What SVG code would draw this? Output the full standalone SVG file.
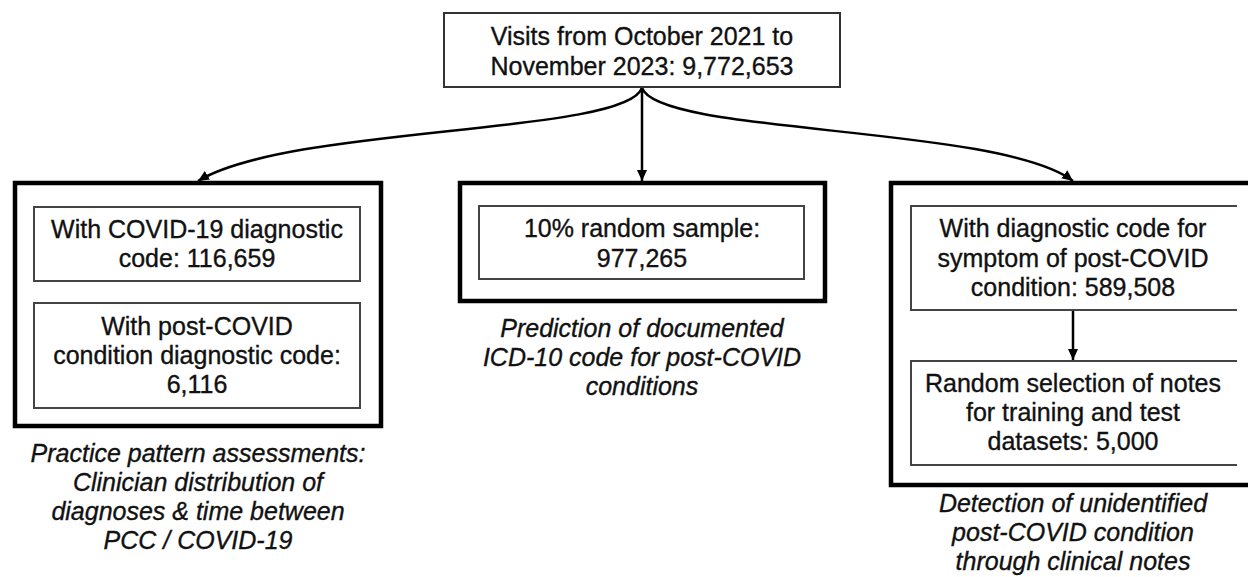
<svg xmlns="http://www.w3.org/2000/svg" width="1248" height="577" viewBox="0 0 1248 577">
<style>
text{font-family:"Liberation Sans",Arial,sans-serif;font-size:25px;fill:#111;stroke:#111;stroke-width:0.35;text-anchor:middle}
.cap{font-style:italic}
.outer{fill:none;stroke:#000;stroke-width:4.5}
.inner{fill:none;stroke:#444;stroke-width:2}
.top{fill:#fff;stroke:#333;stroke-width:2}
.conn{fill:none;stroke:#000;stroke-width:2.5}
</style>
<defs>
<marker id="ah" markerUnits="userSpaceOnUse" markerWidth="12" markerHeight="12" refX="11" refY="6" orient="auto">
<path d="M0,1 L11,6 L0,11 Z" fill="#000"/>
</marker>
</defs>
<rect width="1248" height="577" fill="#fff"/>
<g id="connectors">
<path class="conn" d="M642,88 C625,135 290,125 198,181" marker-end="url(#ah)"/>
<path class="conn" d="M642,88 C659,135 1000,125 1073,181" marker-end="url(#ah)"/>
<path class="conn" d="M642,88 L642,181" marker-end="url(#ah)"/>
<path class="conn" d="M1073,310 L1073,360" stroke-width="2" marker-end="url(#ah)"/>
</g>
<g id="top">
<rect class="top" x="444" y="13" width="396" height="74"/>
<text x="642" y="45">Visits from October 2021 to</text>
<text x="642" y="75">November 2023: 9,772,653</text>
</g>
<g id="left">
<rect class="outer" x="15" y="183" width="366" height="243"/>
<g id="left-covid">
<rect class="inner" x="34" y="207" width="326" height="74"/>
<text x="197" y="238">With COVID-19 diagnostic</text>
<text x="197" y="267">code: 116,659</text>
</g>
<g id="left-pcc">
<rect class="inner" x="34" y="303" width="326" height="105"/>
<text x="197" y="335">With post-COVID</text>
<text x="197" y="364">condition diagnostic code:</text>
<text x="197" y="393">6,116</text>
</g>
<g id="left-caption">
<text class="cap" x="198" y="462">Practice pattern assessments:</text>
<text class="cap" x="198" y="491">Clinician distribution of</text>
<text class="cap" x="198" y="520">diagnoses &amp; time between</text>
<text class="cap" x="198" y="549">PCC / COVID-19</text>
</g>
</g>
<g id="middle">
<rect class="outer" x="460" y="183" width="365" height="118"/>
<g id="middle-sample">
<rect class="inner" x="479" y="206" width="325" height="73"/>
<text x="642" y="237">10% random sample:</text>
<text x="642" y="267">977,265</text>
</g>
<g id="middle-caption">
<text class="cap" x="642" y="337">Prediction of documented</text>
<text class="cap" x="642" y="366">ICD-10 code for post-COVID</text>
<text class="cap" x="642" y="395">conditions</text>
</g>
</g>
<g id="right">
<rect class="outer" x="891" y="183" width="370" height="302"/>
<g id="right-symptom">
<path class="inner" d="M1237,206 H911 V310 H1237"/>
<text x="1073" y="237">With diagnostic code for</text>
<text x="1073" y="267">symptom of post-COVID</text>
<text x="1073" y="296">condition: 589,508</text>
</g>
<g id="right-notes">
<path class="inner" d="M1237,361 H911 V465 H1237"/>
<text x="1073" y="392">Random selection of notes</text>
<text x="1073" y="421">for training and test</text>
<text x="1073" y="450">datasets: 5,000</text>
</g>
<g id="right-caption">
<text class="cap" x="1073" y="512">Detection of unidentified</text>
<text class="cap" x="1073" y="541">post-COVID condition</text>
<text class="cap" x="1073" y="570">through clinical notes</text>
</g>
</g>
</svg>
